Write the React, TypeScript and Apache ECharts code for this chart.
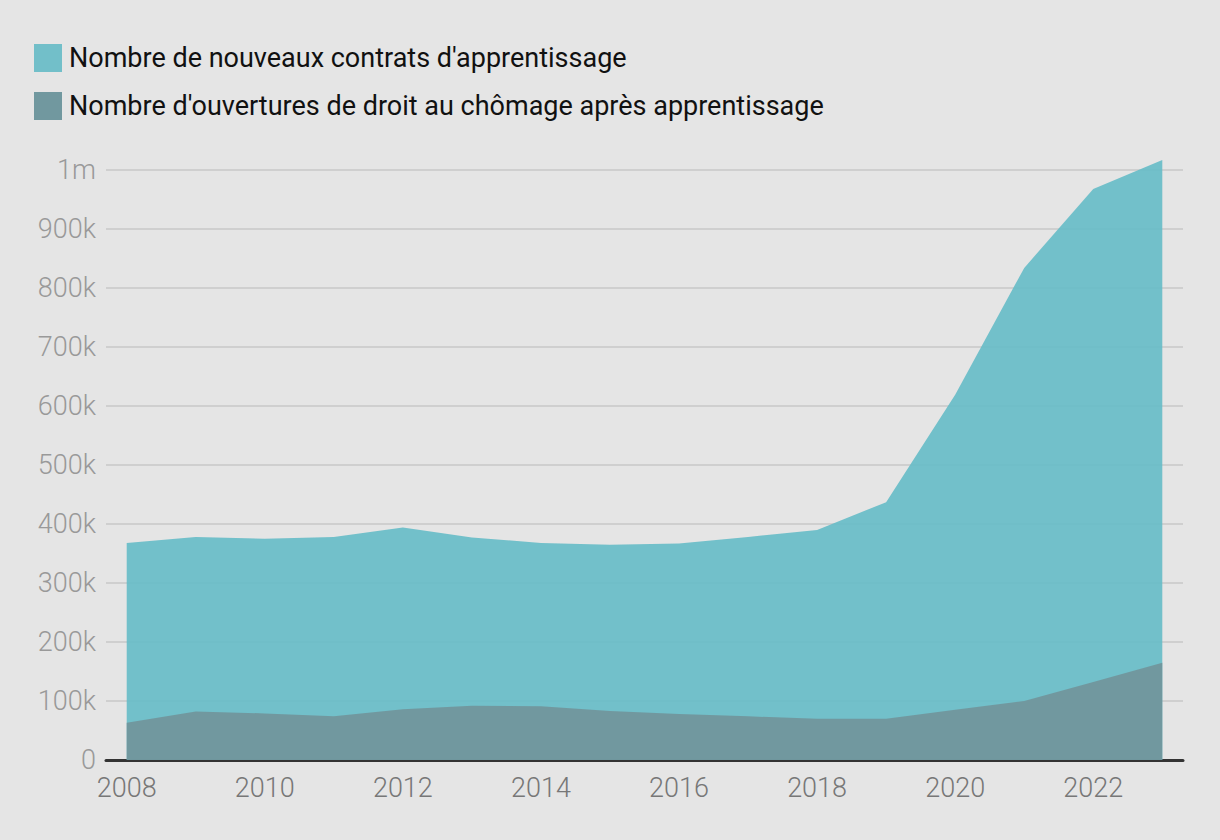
import React, { useEffect, useRef } from "react";
import * as echarts from "echarts";

const years = [2008, 2009, 2010, 2011, 2012, 2013, 2014, 2015, 2016, 2017, 2018, 2019, 2020, 2021, 2022, 2023];
const contrats = [368000, 378000, 375000, 378000, 394000, 377000, 368000, 365000, 367000, 378000, 390000, 437000, 619000, 834000, 968000, 1017000];
const chomage = [63000, 82000, 79000, 74000, 86000, 92000, 91000, 83000, 78000, 74000, 70000, 70000, 85000, 100000, 132000, 165000];
const xLabels = [2008, 2010, 2012, 2014, 2016, 2018, 2020, 2022];
const seriesNames = [
  "Nombre de nouveaux contrats d'apprentissage",
  "Nombre d'ouvertures de droit au chômage après apprentissage",
];

const FONT = "Roboto";

export default function App() {
  const ref = useRef<HTMLDivElement>(null);
  useEffect(() => {
    document.body.style.margin = "0";
    if (!ref.current) return;
    const chart = echarts.init(ref.current, null, { renderer: "svg" });
    chart.setOption({
      animation: false,
      backgroundColor: "#e5e5e5",
      textStyle: { fontFamily: FONT },
      legend: {
        orient: "vertical",
        left: 34,
        top: 44,
        padding: 0,
        itemWidth: 28,
        itemHeight: 28,
        itemGap: 20,
        icon: "rect",
        textStyle: { fontFamily: FONT, fontSize: 27, color: "#111", padding: [0, 0, 0, 2] },
        data: [
          { name: seriesNames[0], itemStyle: { color: "#72bfc9" } },
          { name: seriesNames[1], itemStyle: { color: "#71989f" } },
        ],
      },
      grid: { left: 106, right: 37, top: 170, bottom: 80, containLabel: false },
      xAxis: {
        type: "value",
        min: 2007.7,
        max: 2023.3,
        splitLine: { show: false },
        axisLine: { show: true, lineStyle: { color: "#333", width: 3 } },
        axisTick: { show: false },
        axisLabel: {
          customValues: xLabels,
          color: "#777",
          fontSize: 27,
          fontWeight: 300,
          fontFamily: FONT,
          margin: 14,
          formatter: (v: number) => String(v),
        },
      },
      yAxis: {
        type: "value",
        min: 0,
        max: 1000000,
        interval: 100000,
        axisLine: { show: false },
        axisTick: { show: false },
        splitLine: { lineStyle: { color: "#cfcfcf", width: 2 } },
        axisLabel: {
          color: "#999",
          fontSize: 27,
          fontWeight: 300,
          fontFamily: FONT,
          margin: 10,
          formatter: (v: number) => (v === 0 ? "0" : v >= 1000000 ? v / 1000000 + "m" : v / 1000 + "k"),
        },
      },
      series: [
        {
          name: seriesNames[0],
          type: "line",
          clip: false,
          data: years.map((y, i) => [y, contrats[i]]),
          showSymbol: false,
          lineStyle: { width: 0 },
          itemStyle: { color: "#72bfc9" },
          areaStyle: { color: "#65bbc6", opacity: 0.9 },
          z: 2,
        },
        {
          name: seriesNames[1],
          type: "line",
          clip: false,
          data: years.map((y, i) => [y, chomage[i]]),
          showSymbol: false,
          lineStyle: { width: 0 },
          itemStyle: { color: "#71989f" },
          areaStyle: { color: "#71949a", opacity: 0.9 },
          z: 3,
        },
      ],
    });
    return () => chart.dispose();
  }, []);
  return <div ref={ref} style={{ width: 1220, height: 840 }} />;
}
